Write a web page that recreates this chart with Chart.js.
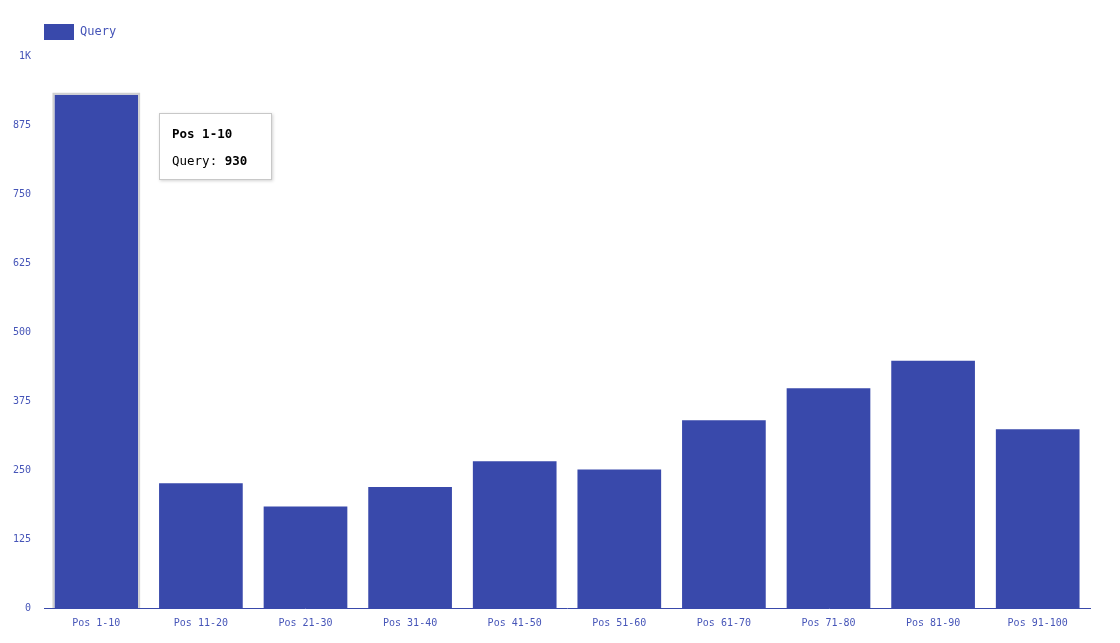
<!DOCTYPE html>
<html>
<head>
<meta charset="utf-8">
<script src="https://cdn.jsdelivr.net/npm/chart.js@4/dist/chart.umd.min.js"></script>
<style>
  html, body { margin: 0; padding: 0; background: #fff; }
  #wrap { position: relative; width: 1120px; height: 643px; }
  #tip {
    position: absolute; background: #fff; border: 1px solid #c8c8c8;
    box-shadow: 1px 1px 3px rgba(0,0,0,0.18);
    font-family: "DejaVu Sans Mono", monospace; font-size: 12.5px; line-height: 15px; color: #000;
    padding: 12px 24px 12px 12px; pointer-events: none; opacity: 0; white-space: nowrap;
    box-sizing: border-box; width: 113px; height: 67px;
  }
  #tip .t { font-weight: bold; margin-bottom: 12px; }
</style>
</head>
<body>
<div id="wrap">
  <canvas id="c" width="1120" height="643"></canvas>
  <div id="tip"></div>
</div>
<script>
const categories = ["Pos 1-10","Pos 11-20","Pos 21-30","Pos 31-40","Pos 41-50","Pos 51-60","Pos 61-70","Pos 71-80","Pos 81-90","Pos 91-100"];
const queryValues = [930, 226, 184, 219, 266, 251, 340, 398, 448, 324];
const seriesName = "Query";
const yTicks = [0, 125, 250, 375, 500, 625, 750, 875, 1000];

const BLUE = '#3949ab';
const TEXT = '#4655b8';
const FONT = '"DejaVu Sans Mono", monospace';

const layoutTweaks = {
  id: 'layoutTweaks',
  beforeLayout(chart) {
    const lg = chart.legend;
    if (lg && !lg._patched) {
      const origFit = lg.fit.bind(lg);
      lg.fit = function () { origFit(); this.height += 6; };
      lg._patched = true;
    }
  },
  afterLayout(chart) {
    if (chart.legend) { chart.legend.left += 34; chart.legend.right += 34; }
  },
  afterDatasetsDraw(chart) {
    const ctx = chart.ctx;
    chart.getActiveElements().forEach(a => {
      const el = chart.getDatasetMeta(a.datasetIndex).data[a.index];
      const p = el.getProps(['x', 'y', 'base', 'width'], true);
      const l = p.x - p.width / 2, r = p.x + p.width / 2;
      ctx.save();
      ctx.strokeStyle = '#d0d0d0';
      ctx.lineWidth = 2;
      ctx.beginPath();
      ctx.moveTo(l - 1, p.base);
      ctx.lineTo(l - 1, p.y - 1);
      ctx.lineTo(r + 1, p.y - 1);
      ctx.lineTo(r + 1, p.base);
      ctx.stroke();
      ctx.restore();
    });
  }
};

function externalTip(ctx) {
  const tip = document.getElementById('tip');
  const t = ctx.tooltip;
  if (!t || t.opacity === 0 || !t.dataPoints || !t.dataPoints.length) { tip.style.opacity = 0; return; }
  const dp = t.dataPoints[0];
  tip.innerHTML = '<div class="t">' + dp.label + '</div><div>' + dp.dataset.label + ': <b>' + dp.raw + '</b></div>';
  const el = dp.element;
  tip.style.left = Math.round(el.x + el.width / 2 + 21) + 'px';
  tip.style.top = Math.round(el.y + 18) + 'px';
  tip.style.opacity = 1;
}

const chart = new Chart(document.getElementById('c'), {
  type: 'bar',
  data: {
    labels: categories,
    datasets: [{
      label: seriesName,
      data: queryValues,
      backgroundColor: BLUE,
      hoverBackgroundColor: BLUE,
      borderWidth: 0,
      hoverBorderWidth: 0,
      barPercentage: 0.8,
      categoryPercentage: 1.0
    }]
  },
  options: {
    responsive: false,
    animation: false,
    layout: { padding: { top: 14, right: 30, bottom: 5, left: 0 } },
    plugins: {
      legend: {
        position: 'top', align: 'start',
        labels: { boxWidth: 30, boxHeight: 16, padding: 10, color: TEXT, font: { family: FONT, size: 12 } }
      },
      tooltip: { enabled: false, external: externalTip }
    },
    scales: {
      x: {
        grid: { display: false, drawTicks: false },
        border: { display: true, color: BLUE, width: 1 },
        ticks: { color: TEXT, font: { family: FONT, size: 10 }, padding: 9, maxRotation: 0 }
      },
      y: {
        min: 0, max: 1000,
        afterBuildTicks(scale) { scale.ticks = yTicks.map(v => ({ value: v })); },
        afterFit(scale) { scale.width = 44; },
        grid: { display: false, drawTicks: false },
        border: { display: false },
        ticks: {
          color: TEXT, font: { family: FONT, size: 10 }, padding: 13,
          callback: v => v >= 1000 ? (v / 1000) + 'K' : v
        }
      }
    }
  },
  plugins: [layoutTweaks]
});

const active = [{ datasetIndex: 0, index: 0 }];
chart.setActiveElements(active);
const el0 = chart.getDatasetMeta(0).data[0];
chart.tooltip.setActiveElements(active, { x: el0.x, y: el0.y });
chart.update();
</script>
</body>
</html>
